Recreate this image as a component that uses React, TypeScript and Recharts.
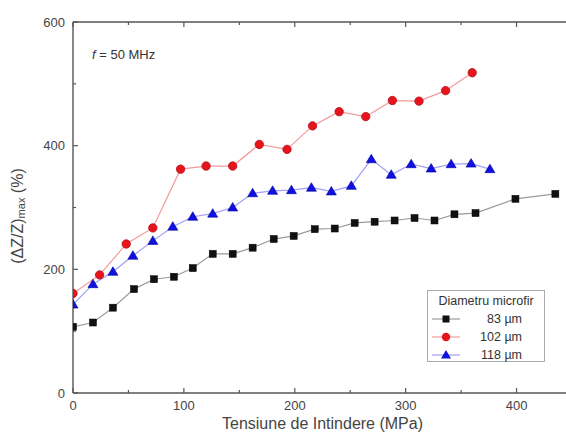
import { LineChart, Line, XAxis, YAxis, Legend, Label } from "recharts";

const FONT = "'Liberation Sans', Arial, sans-serif";

// Tensiune (MPa) / (ΔZ/Z)max (%) per diametru
const x83 = [0, 18, 36, 55, 73, 91, 108, 126, 144, 162, 181, 199, 218, 236, 254, 272, 290, 308, 326, 344, 363, 399, 435];
const y83 = [107, 114, 138, 168, 184, 188, 202, 225, 225, 235, 249, 254, 265, 266, 275, 277, 279, 283, 279, 289, 291, 314, 322];

const x102 = [0, 24, 48, 72, 97, 120, 144, 168, 193, 216, 240, 264, 288, 312, 336, 360];
const y102 = [161, 191, 241, 267, 362, 367, 367, 402, 394, 432, 455, 447, 473, 472, 489, 518];

const x118 = [0, 18, 36, 54, 72, 90, 108, 126, 144, 162, 180, 197, 215, 233, 251, 269, 287, 305, 323, 341, 359, 376];
const y118 = [143, 176, 196, 222, 246, 269, 285, 290, 300, 323, 327, 328, 332, 326, 335, 378, 353, 370, 363, 370, 371, 362];

const xTicks = [0, 50, 100, 150, 200, 250, 300, 350, 400, 450];
const yTicks = [0, 100, 200, 300, 400, 500, 600];

const seriesNames = ["83 \u00b5m", "102 \u00b5m", "118 \u00b5m"];

const zip = (xs: number[], ys: number[]) => xs.map((x, i) => ({ x, y: ys[i] }));
const d83 = zip(x83, y83);
const d102 = zip(x102, y102);
const d118 = zip(x118, y118);

const AXIS = "#555";

const BottomTick = (p: any) => {
  const v = p.payload.value;
  const major = v % 100 === 0;
  const ay = p.y - 8;
  return (
    <g>
      <line x1={p.x} x2={p.x} y1={ay} y2={ay - (major ? 5 : 3)} stroke={AXIS} strokeWidth={1.2} />
      {major && v <= 400 && (
        <text x={p.x} y={p.y} dy="0.71em" textAnchor="middle" fontSize={13} fill="#444" fontFamily={FONT}>
          {v}
        </text>
      )}
    </g>
  );
};

const TopTick = (p: any) => {
  const major = p.payload.value % 100 === 0;
  return <line x1={p.x} x2={p.x} y1={p.y} y2={p.y + (major ? 5 : 3)} stroke={AXIS} strokeWidth={1.2} />;
};

const LeftTick = (p: any) => {
  const v = p.payload.value;
  const major = v % 200 === 0;
  const ax = p.x + 8;
  return (
    <g>
      <line x1={ax} x2={ax + (major ? 5 : 3)} y1={p.y} y2={p.y} stroke={AXIS} strokeWidth={1.2} />
      {major && (
        <text x={p.x} y={p.y} dy="0.35em" textAnchor="end" fontSize={13} fill="#444" fontFamily={FONT}>
          {v}
        </text>
      )}
    </g>
  );
};

const square = (p: any) => (
  <rect key={"s" + p.index} x={p.cx - 3.5} y={p.cy - 3.5} width={7} height={7} fill="#111" stroke="#000" strokeWidth={0.5} />
);
const circle = (p: any) => (
  <circle key={"c" + p.index} cx={p.cx} cy={p.cy} r={4.2} fill="#e8141c" stroke="#b0101a" strokeWidth={0.8} />
);
const triangle = (p: any) => (
  <path
    key={"t" + p.index}
    d={`M${p.cx},${p.cy - 5} L${p.cx + 5},${p.cy + 3.5} L${p.cx - 5},${p.cy + 3.5} Z`}
    fill="#1010e0"
    stroke="#0000a0"
    strokeWidth={0.6}
  />
);

const markers = [
  { line: "#9a9a9a", draw: (cx: number, cy: number) => <rect x={cx - 3.5} y={cy - 3.5} width={7} height={7} fill="#111" /> },
  { line: "#f29a9a", draw: (cx: number, cy: number) => <circle cx={cx} cy={cy} r={4.2} fill="#e8141c" /> },
  {
    line: "#a0a0f5",
    draw: (cx: number, cy: number) => (
      <path d={`M${cx},${cy - 5} L${cx + 5},${cy + 3.5} L${cx - 5},${cy + 3.5} Z`} fill="#1010e0" />
    ),
  },
];

const LegendBox = () => (
  <div
    style={{
      boxSizing: "border-box",
      width: 118,
      height: 72,
      border: "1px solid #aaa",
      background: "#fff",
      fontFamily: FONT,
      fontSize: 12.5,
      color: "#333",
      position: "relative",
    }}
  >
    <div style={{ position: "absolute", top: 2, left: 0, width: 116, textAlign: "center", lineHeight: "17px" }}>
      Diametru microfir
    </div>
    {seriesNames.map((name, i) => (
      <div key={name} style={{ position: "absolute", top: 19 + i * 18, left: 0, width: 116, height: 18 }}>
        <svg width={36} height={18} style={{ position: "absolute", left: 0, top: 0 }}>
          <line x1={4} x2={32} y1={9} y2={9} stroke={markers[i].line} strokeWidth={1.2} />
          {markers[i].draw(18, 9)}
        </svg>
        <div style={{ position: "absolute", right: 22, top: 0, lineHeight: "18px" }}>{name}</div>
      </div>
    ))}
  </div>
);

const YTitle = (props: any) => {
  const vb = props.viewBox;
  const cx = vb.x + 17;
  const cy = 216;
  return (
    <text
      x={cx}
      y={cy}
      transform={`rotate(-90 ${cx} ${cy})`}
      textAnchor="middle"
      dominantBaseline="central"
      fontSize={16}
      fill="#444"
      fontFamily={FONT}
    >
      (ΔZ/Z)
      <tspan dy={4} fontSize={11}>max</tspan>
      <tspan dy={-4}> (%)</tspan>
    </text>
  );
};

const XTitle = (props: any) => {
  const vb = props.viewBox;
  return (
    <text
      x={vb.x + vb.width / 2}
      y={vb.y + 30}
      textAnchor="middle"
      dominantBaseline="central"
      fontSize={16}
      fill="#444"
      fontFamily={FONT}
    >
      Tensiune de Intindere (MPa)
    </text>
  );
};

export default function App() {
  return (
    <div style={{ position: "absolute", left: 0, top: 0, width: 566, height: 443, overflow: "hidden", background: "#fff" }}>
      <LineChart width={580} height={443} margin={{ top: 21, right: 8, left: 0, bottom: 0 }}>
        <XAxis
          dataKey="x"
          type="number"
          domain={[0, 450]}
          ticks={xTicks}
          interval={0}
          height={50}
          tickSize={0}
          tickMargin={8}
          tickLine={false}
          tick={BottomTick}
          axisLine={{ stroke: AXIS, strokeWidth: 1.4 }}
          allowDataOverflow
        >
          <Label content={XTitle} />
        </XAxis>
        <XAxis
          xAxisId="top"
          orientation="top"
          dataKey="x"
          type="number"
          domain={[0, 450]}
          ticks={xTicks}
          interval={0}
          height={1}
          tickSize={0}
          tickMargin={0}
          tickLine={false}
          tick={TopTick}
          axisLine={{ stroke: AXIS, strokeWidth: 1.4 }}
          allowDataOverflow
        />
        <YAxis
          type="number"
          domain={[0, 600]}
          ticks={yTicks}
          interval={0}
          width={73}
          tickSize={0}
          tickMargin={8}
          tickLine={false}
          tick={LeftTick}
          axisLine={{ stroke: AXIS, strokeWidth: 1.4 }}
        >
          <Label content={YTitle} />
        </YAxis>
        <Legend
          layout="vertical"
          align="center"
          verticalAlign="middle"
          wrapperStyle={{ left: 427, top: 290, width: 118 }}
          content={LegendBox}
        />
        <Line
          data={d83}
          dataKey="y"
          name={seriesNames[0]}
          type="linear"
          stroke="#9a9a9a"
          strokeWidth={1.2}
          dot={square}
          activeDot={false}
          isAnimationActive={false}
        />
        <Line
          data={d102}
          dataKey="y"
          name={seriesNames[1]}
          type="linear"
          stroke="#f29a9a"
          strokeWidth={1.2}
          dot={circle}
          activeDot={false}
          isAnimationActive={false}
        />
        <Line
          data={d118}
          dataKey="y"
          name={seriesNames[2]}
          type="linear"
          stroke="#a0a0f5"
          strokeWidth={1.2}
          dot={triangle}
          activeDot={false}
          isAnimationActive={false}
        />
      </LineChart>
      <div
        style={{
          position: "absolute",
          left: 92,
          top: 47,
          fontFamily: FONT,
          fontSize: 13,
          lineHeight: "16px",
          color: "#333",
        }}
      >
        <i>f</i> = 50 MHz
      </div>
    </div>
  );
}
